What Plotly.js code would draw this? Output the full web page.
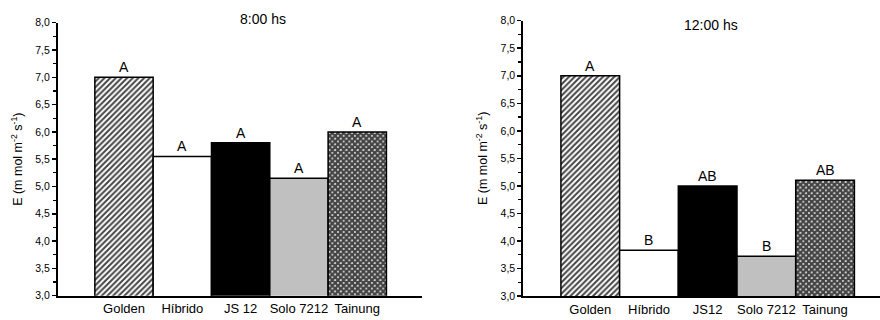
<!DOCTYPE html>
<html>
<head>
<meta charset="utf-8">
<script src="https://cdn.plot.ly/plotly-3.0.1.min.js"></script>
<style>
  html, body { margin: 0; padding: 0; background: #fff; }
  #chart { width: 880px; height: 320px; }
</style>
</head>
<body>
<div id="chart"></div>
<script>
// Cultivars and transpiration rates at two times of day
const catsMorning = ['Golden', 'Híbrido', 'JS 12', 'Solo 7212', 'Tainung'];
const catsNoon    = ['Golden', 'Híbrido', 'JS12', 'Solo 7212', 'Tainung'];
const eMorning = [7.0, 5.55, 5.8, 5.15, 6.0];
const eNoon    = [7.0, 3.83, 5.0, 3.72, 5.1];
const letterMorning = ['A', 'A', 'A', 'A', 'A'];
const letterNoon    = ['A', 'B', 'AB', 'B', 'AB'];
const titleMorning = '8:00 hs';
const titleNoon = '12:00 hs';
const yTitle = 'E (m mol m<sup>-2</sup> s<sup>-1</sup>)';

// fill style per cultivar
const fillColor = ['#ffffff', '#ffffff', '#000000', '#c0c0c0', '#ffffff'];
const patShape  = ['/', '', '', '', 'x'];
const patFg     = ['#000000', '#000000', '#000000', '#000000', '#000000'];
const patSize   = [4, 5, 5, 5, 4];
const patSolid  = [0.5, 0.3, 0.3, 0.3, 0.85];

const idx = catsMorning.map((_, i) => i);
const FONT = 'Liberation Sans, Arial, sans-serif';

function barTrace(vals, xa, ya) {
  return {
    type: 'bar', x: idx, y: vals, xaxis: xa, yaxis: ya,
    width: 1, base: 0,
    marker: {
      color: fillColor,
      line: { color: '#000', width: 1.5 },
      pattern: { shape: patShape, fgcolor: patFg, fgopacity: 1, bgcolor: fillColor,
                 size: patSize, solidity: patSolid, fillmode: 'overlay' }
    },
    hoverinfo: 'skip', showlegend: false
  };
}

function letterNotes(vals, letters, xref, yref) {
  return vals.map((v, i) => ({
    x: i, y: v, xref: xref, yref: yref, text: letters[i],
    showarrow: false, yanchor: 'bottom', yshift: 0,
    font: { family: FONT, size: 14, color: '#000' }
  }));
}

function yAxis(domain, anchor) {
  return {
    domain: domain, anchor: anchor, range: [3, 8], fixedrange: true,
    tickmode: 'linear', tick0: 3, dtick: 0.5, tickformat: '.1f',
    ticks: 'outside', ticklen: 4, tickwidth: 1.5,
    tickcolor: '#000', showgrid: false, zeroline: false,
    showline: true, linecolor: '#000', linewidth: 2,
    tickfont: { family: FONT, size: 10.5, color: '#000' },
    minor: { tickmode: 'linear', tick0: 3, dtick: 0.25, ticks: 'outside', ticklen: 3,
             tickwidth: 1.2, tickcolor: '#000', showgrid: false },
    title: { text: yTitle,
             font: { family: FONT, size: 12.5, color: '#000' } },
    automargin: false
  };
}

function xAxis(domain, anchor, range, labels) {
  return {
    domain: domain, anchor: anchor, range: range, fixedrange: true,
    tickvals: idx, ticktext: labels, ticks: '', showgrid: false, zeroline: false,
    showline: true, linecolor: '#000', linewidth: 2,
    tickfont: { family: FONT, size: 13, color: '#000' },
    automargin: false
  };
}

const data = [
  barTrace(eMorning, 'x', 'y'),
  barTrace(eNoon, 'x2', 'y2')
];

const layout = {
  width: 880, height: 320,
  margin: { l: 0, r: 0, t: 0, b: 0 },
  paper_bgcolor: '#fff', plot_bgcolor: 'rgba(0,0,0,0)',
  separators: ',.',
  bargap: 0,
  xaxis:  xAxis([58 / 880, 422 / 880], 'y', [-1.132, 5.11], catsMorning),
  yaxis:  yAxis([24.3 / 320, 297.3 / 320], 'x'),
  xaxis2: xAxis([523.3 / 880, 1.0], 'y2', [-1.141, 4.936], catsNoon),
  yaxis2: yAxis([24 / 320, 299.3 / 320], 'x2'),
  annotations: [
    ...letterNotes(eMorning, letterMorning, 'x', 'y'),
    ...letterNotes(eNoon, letterNoon, 'x2', 'y2'),
    { text: titleMorning, xref: 'paper', yref: 'paper', x: 263 / 880, y: 1 - 19 / 320,
      showarrow: false, xanchor: 'center', yanchor: 'middle',
      font: { family: FONT, size: 14, color: '#000' } },
    { text: titleNoon, xref: 'paper', yref: 'paper', x: 711 / 880, y: 1 - 25 / 320,
      showarrow: false, xanchor: 'center', yanchor: 'middle',
      font: { family: FONT, size: 14, color: '#000' } }
  ]
};

Plotly.newPlot('chart', data, layout, { displayModeBar: false, staticPlot: true });
</script>
</body>
</html>
